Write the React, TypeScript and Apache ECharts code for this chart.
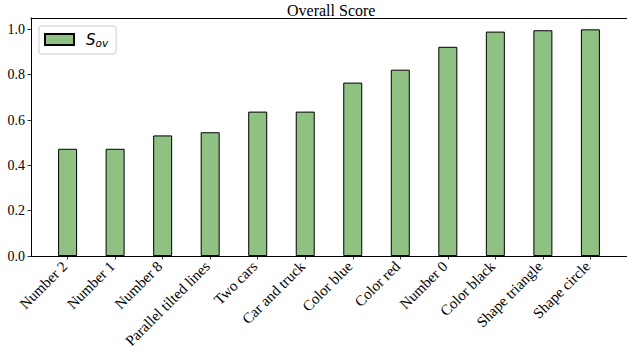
import React, { useEffect, useRef } from "react";
import * as echarts from "echarts";

// Categories ordered by ascending overall score
const categories = [
  "Number 2",
  "Number 1",
  "Number 8",
  "Parallel tilted lines",
  "Two cars",
  "Car and truck",
  "Color blue",
  "Color red",
  "Number 0",
  "Color black",
  "Shape triangle",
  "Shape circle",
];

const scores = [0.473, 0.473, 0.532, 0.546, 0.637, 0.637, 0.765, 0.822, 0.923, 0.99, 0.996, 1.0];

const yTicks = [0, 0.2, 0.4, 0.6, 0.8, 1.0];

const SERIF = "'Liberation Serif', 'Times New Roman', serif";

export default function App() {
  const ref = useRef<HTMLDivElement>(null);

  useEffect(() => {
    document.body.style.margin = "0";
    if (!ref.current) return;
    const chart = echarts.init(ref.current, undefined, { renderer: "svg" });
    const xIdx = categories.map((_, i) => i);

    chart.setOption({
      animation: false,
      title: {
        text: "Overall Score",
        left: 287,
        top: 2,
        padding: 0,
        textStyle: { fontFamily: SERIF, fontSize: 16, fontWeight: "normal", color: "#000" },
      },
      legend: {
        left: 39,
        top: 26,
        padding: [6, 8, 6, 5],
        itemWidth: 29,
        itemHeight: 11,
        icon: "rect",
        borderColor: "#cccccc",
        borderWidth: 1,
        borderRadius: 3,
        backgroundColor: "rgba(255,255,255,0.8)",
        formatter: () => "{s|S}{sub|ov}",
        textStyle: {
          rich: {
            s: {
              fontFamily: "'DejaVu Sans', sans-serif",
              fontStyle: "italic",
              fontSize: 15,
              color: "#000",
              padding: [0, 0, 0, 7],
            },
            sub: {
              fontFamily: "'DejaVu Sans', sans-serif",
              fontStyle: "italic",
              fontSize: 10.5,
              color: "#000",
              verticalAlign: "bottom",
              padding: [6, 0, 0, 0],
            },
          },
        },
        data: ["S_ov"],
      },
      grid: { left: 31, right: -3, top: 18, bottom: 98 },
      xAxis: [
        {
          type: "value",
          min: -0.77,
          max: 11.77,
          axisLine: { show: true, onZero: false, lineStyle: { color: "#000", width: 1 } },
          axisTick: {
            show: true,
            inside: false,
            length: 3.5,
            customValues: xIdx,
            lineStyle: { color: "#000", width: 0.8 },
          },
          axisLabel: {
            show: true,
            customValues: xIdx,
            rotate: 45,
            margin: 5,
            padding: [0, 4, 7, 0],
            hideOverlap: false,
            fontFamily: SERIF,
            fontSize: 15,
            color: "#000",
            formatter: (v: number) => categories[Math.round(v)] ?? "",
          },
          splitLine: { show: false },
        },
        {
          type: "value",
          position: "top",
          min: -0.77,
          max: 11.77,
          axisLine: { show: true, onZero: false, lineStyle: { color: "#000", width: 1 } },
          axisTick: { show: false },
          axisLabel: { show: false },
          splitLine: { show: false },
        },
      ],
      yAxis: {
        type: "value",
        min: 0,
        max: 1.05,
        axisLine: { show: true, onZero: false, lineStyle: { color: "#000", width: 1 } },
        axisTick: {
          show: true,
          inside: false,
          length: 3.5,
          customValues: yTicks,
          lineStyle: { color: "#000", width: 0.8 },
        },
        axisLabel: {
          show: true,
          customValues: yTicks,
          margin: 6,
          fontFamily: SERIF,
          fontSize: 14,
          color: "#000",
          formatter: (v: number) => v.toFixed(1),
        },
        splitLine: { show: false },
      },
      series: [
        {
          name: "S_ov",
          type: "bar",
          xAxisIndex: 0,
          barWidth: 19,
          data: scores.map((v, i) => [i, v]),
          itemStyle: { color: "#8fc182", borderColor: "#000", borderWidth: 1 },
        },
      ],
    });

    return () => chart.dispose();
  }, []);

  return <div ref={ref} style={{ width: 627, height: 354 }} />;
}
